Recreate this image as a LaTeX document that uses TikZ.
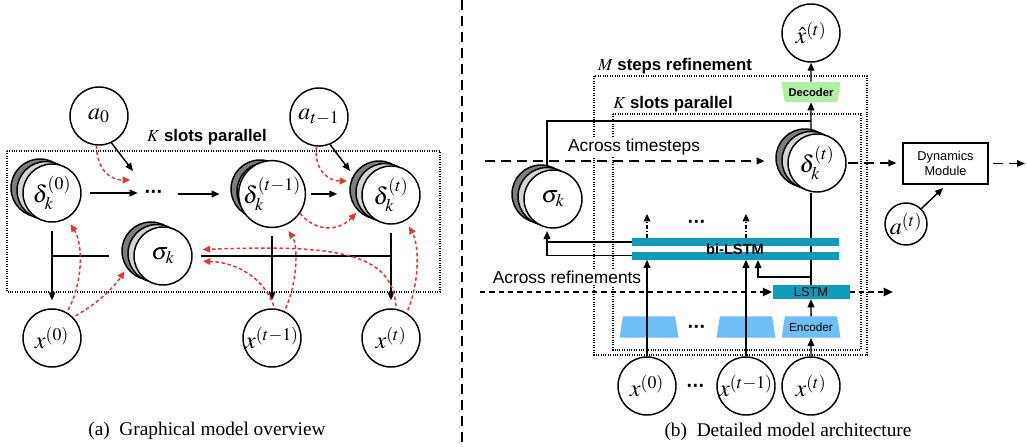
\documentclass[tikz,border=0pt]{standalone}
\usepackage{mathptmx}
\usepackage[no-math]{fontspec}
\setmainfont{Liberation Serif}
\setsansfont{Liberation Sans}
\usetikzlibrary{arrows.meta,shapes.geometric,calc}

\definecolor{slotdark}{RGB}{125,125,125}
\definecolor{slotlight}{RGB}{212,212,212}
\definecolor{redflow}{RGB}{238,48,48}
\definecolor{lstmteal}{RGB}{14,156,184}
\definecolor{encblue}{RGB}{112,190,246}
\definecolor{decgreen}{RGB}{176,238,166}

\newcommand{\threedots}{\char"00B7\kern-0.5pt\char"00B7\kern-0.5pt\char"00B7}

\tikzset{
  var/.style={circle, draw, line width=1.1pt, fill=white, minimum size=43.5pt,
    inner sep=0pt, font=\fontsize{18}{20}\selectfont},
  slotback/.style={circle, draw, line width=1.1pt, minimum size=43.5pt, inner sep=0pt},
  plain/.style={line width=1.1pt},
  arr/.style={line width=1.1pt, -{Triangle[length=6pt,width=5pt]}},
  redarr/.style={draw=redflow, line width=1.1pt, dash pattern=on 2.6pt off 2pt,
    -{Triangle[length=5.5pt,width=5pt,fill=redflow]}},
  dotbox/.style={line width=0.8pt, densely dotted},
  lab/.style={font=\sffamily\bfseries\fontsize{12.6}{14}\selectfont, inner sep=1pt},
  txt/.style={font=\sffamily\fontsize{13}{15}\selectfont, fill=white, inner sep=1.5pt},
  tsdash/.style={line width=1.1pt, dash pattern=on 7.5pt off 4.5pt,
    -{Triangle[length=6pt,width=5pt]}},
  rfdash/.style={line width=1.6pt, dash pattern=on 4pt off 3pt,
    -{Triangle[length=7pt,width=6pt]}},
  dotup/.style={line width=1pt, dash pattern=on 3pt off 1.5pt on 0.8pt off 1.5pt,
    -{Triangle[length=5.5pt,width=5pt]}},
  enc/.style={trapezium, trapezium stretches=true, trapezium left angle=72,
    trapezium right angle=72, minimum width=44.25pt, minimum height=16pt,
    fill=encblue, inner sep=0pt, font=\sffamily\fontsize{8.8}{10}\selectfont},
  dec/.style={enc, shape border rotate=180, fill=decgreen, minimum height=15pt,
    font=\sffamily\bfseries\fontsize{8.4}{10}\selectfont},
  bar/.style={rectangle, fill=lstmteal, minimum width=155.25pt, minimum height=6pt,
    inner sep=0pt},
  lstmbox/.style={rectangle, fill=lstmteal, minimum width=57.75pt, minimum height=10.5pt,
    inner sep=0pt, font=\sffamily\fontsize{9.6}{10}\selectfont},
  caption/.style={font=\fontsize{14.5}{16}\selectfont},
  dotsnode/.style={font=\sffamily\bfseries\fontsize{15}{16}\selectfont, inner sep=1pt},
}

% a slot variable drawn as a stack of three circles (two shaded copies behind)
\newcommand{\slotstack}[4]{%
  \node[slotback, fill=slotdark] (#1-b2) at (#2-12,#3-5) {};
  \node[slotback, fill=slotlight] (#1-b1) at (#2-6,#3-2.5) {};
  \node[var] (#1) at (#2,#3) {#4};}

\begin{document}
\begin{tikzpicture}[x=0.75pt,y=-0.75pt]
\fill[white] (0,0) rectangle (1027,446);
\useasboundingbox (0,0) rectangle (1027,446);

% ---------------- (a) graphical model ----------------
\draw[dotbox] (7,151) rectangle (440,292);
\node[lab] (lblKa) at (207,137) {$K$ slots parallel};

\node[var] (a0) at (99,116) {$a_0$};
\node[var] (at1) at (319,117) {$a_{t-1}$};
\slotstack{d0}{52}{193}{$\delta_k^{(0)}$}
\node[dotsnode] (dots) at (154,194) {\threedots};
\slotstack{dt1}{272}{194}{$\delta_k^{(t-1)}$}
\slotstack{dt}{391}{195}{$\delta_k^{(t)}$}
\slotstack{sig}{163}{256}{$\sigma_k$}
\node[var] (x0) at (52,338) {$x^{(0)}$};
\node[var] (xt1) at (272,338) {$x^{(t-1)}$};
\node[var] (xt) at (391,338) {$x^{(t)}$};

\coordinate (in0) at (133,171);
\coordinate (in0r) at (130,180);
\coordinate (int) at (350,171);
\coordinate (intr) at (347,181);

% temporal chain
\draw[arr, shorten <=6pt, shorten >=4pt] (d0.east) -- (d0.east -| dots.west);
\draw[arr, shorten <=10pt, shorten >=8pt] (dots.east) -- (dots.east -| dt1-b2.west);
\draw[arr, shorten <=4pt, shorten >=9pt] (dt1.east) -- (dt1.east -| dt-b2.west);
\draw[arr] (a0.295) -- (in0);
\draw[arr] (at1.292) -- (int);

% emission lines
\draw[arr, shorten <=6pt, shorten >=6pt] (d0.south) -- (x0.north);
\draw[arr, shorten <=6pt, shorten >=6pt] (dt1.south) -- (xt1.north);
\draw[arr, shorten <=6pt, shorten >=6pt] (dt.south) -- (xt.north);
\draw[plain, shorten <=18pt] (sig.west) -- (sig.west -| d0.south);
\draw[plain, shorten <=6pt] (sig.east) -- (sig.east -| dt.south);

% inference (red)
\draw[redarr] (a0.265) .. controls (97,170) and (110,180) .. (in0r);
\draw[redarr] (at1.265) .. controls (314,170) and (328,181) .. (intr);
\draw[redarr, shorten >=2pt] (dt1.-35) .. controls (318,234) and (340,230) .. (dt-b2.225);
\draw[redarr, shorten <=2pt, shorten >=5pt] (x0.60) .. controls (82,285) and (84,245) .. (d0.-60);
\draw[redarr, shorten <=2pt, shorten >=3pt] (x0.45) .. controls (95,305) and (112,290) .. (sig-b2.215);
\draw[redarr, shorten <=2pt, shorten >=5pt] (xt1.65) .. controls (298,280) and (298,245) .. (dt1.-68);
\draw[redarr, shorten <=2pt, shorten >=8pt] (xt1.85) .. controls (265,280) and (238,262) .. (sig.-10);
\draw[redarr, shorten <=2pt, shorten >=8pt] (xt.80) .. controls (392,250) and (330,245) .. (sig.12);
\draw[redarr, shorten <=2pt, shorten >=5pt] (xt.58) .. controls (420,280) and (419,245) .. (dt.-60);

\node[caption] (capA) at (207,431) {(a)\ \ Graphical model overview};

% divider
\draw[line width=1.1pt, dash pattern=on 7.5pt off 4.5pt] (462,0) -- (462,446);

% ---------------- (b) architecture ----------------
\draw[dotbox] (594,76) rectangle (867,355);
\draw[dotbox] (613,114) rectangle (861,350);
\node[lab] (lblM) at (675,66) {$M$ steps refinement};
\node[lab] (lblKb) at (673,104) {$K$ slots parallel};

\node[txt] (acrT) at (634,147) {Across timesteps};
\node[txt] (acrR) at (567,277) {Across refinements};

\node[var] (xhat) at (811,33) {$\hat{x}^{(t)}$};
\node[dec] (dec) at (811,92) {Decoder};

\slotstack{sigR}{553}{199}{$\sigma_k$}
\slotstack{dtR}{817}{163}{$\delta_k^{(t)}$}

\node[lstmbox] (lstm) at (811,292) {LSTM};
\node[enc] (enc1) at (649,327) {\phantom{Encoder}};
\node[enc] (enc2) at (746,327) {\phantom{Encoder}};
\node[enc] (enc3) at (811,327) {Encoder};
\node[dotsnode] (dotsE) at (697,329) {\threedots};

\node[var] (x0R) at (647,386) {$x^{(0)}$};
\node[var] (xt1R) at (746,386) {$x^{(t-1)}$};
\node[var] (xtR) at (811,386) {$x^{(t)}$};
\node[dotsnode] (dotsX) at (696,388) {\threedots};

\node[var, minimum size=31.5pt] (atR) at (906,224) {$a^{(t)}$};
\node[draw, line width=1.1pt, minimum width=63.75pt, minimum height=30.75pt,
  align=center, inner sep=0pt, font=\sffamily\fontsize{9.6}{11}\selectfont]
  (dyn) at (945.5,163.5) {Dynamics\\Module};

\coordinate (sigtop) at (547,168);
\coordinate (sigbot) at (547,231);
\coordinate (jn) at (811,121);
\coordinate (lj) at (811,277);
\coordinate (lb) at (758,260);
\coordinate (up1) at (647,214);
\coordinate (up2) at (746,214);
\coordinate (tsstart) at (485,161);
\coordinate (tsend) at (1025,163.5);
\coordinate (rfstart) at (480,292);
\coordinate (rfend) at (893,292);
\coordinate (dynin) at (943,188);

% decoding path
\draw[arr] (dtR-b1.north) -- (dec.south);
\draw[arr] (dec.north) -- (xhat.south);
\draw[plain] (sigtop) |- (jn);

% LSTM output to the slot state
\draw[plain] (lstm.north) -- (lstm.north |- dtR.south);
\draw[arr] (lj) -| (lb);

% bi-LSTM
\node[bar] (bar1) at (735.5,242) {};
\node[bar] (bar2) at (735.5,255.5) {};
\node[font=\sffamily\bfseries\fontsize{11}{12}\selectfont, inner sep=0pt] (bilstm) at (735,249) {bi-LSTM};
\node[dotsnode] (dotsU) at (697,224) {\threedots};

\draw[plain] (bar1.west) -- (bar1.west -| sigbot);
\draw[arr] (bar2.west) -| (sigbot);
\draw[dotup] (up1 |- bar1.north) -- (up1);
\draw[dotup] (up2 |- bar1.north) -- (up2);

% encoders
\draw[arr] (x0R.north) -- (x0R |- bar2.south);
\draw[arr] (xt1R.north) -- (xt1R |- bar2.south);
\draw[arr] (xtR.north) -- (enc3.south);
\draw[arr] (enc3.north) -- (lstm.south);

% across timesteps
\draw[tsdash, shorten >=8pt] (tsstart) -- (tsstart -| dtR-b2.west);
\draw[tsdash, shorten <=1pt, shorten >=4.5pt] (dtR.east) -- (dtR.east -| dyn.west);
\draw[tsdash, shorten <=3pt] (dyn.east) -- (tsend);
\draw[arr] (atR.45) -- (dynin);

% across refinements
\draw[rfdash] (rfstart) -- (lstm.west);
\draw[rfdash] (lstm.east) -- (rfend);

\node[caption] (capB) at (788,432) {(b)\ \ Detailed model architecture};
\end{tikzpicture}
\end{document}
